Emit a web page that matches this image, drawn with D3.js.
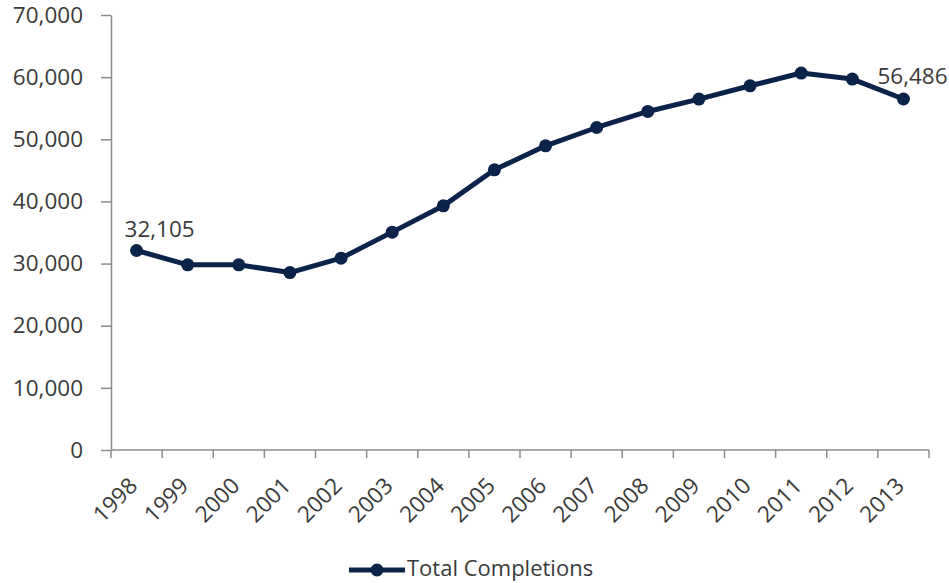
<!DOCTYPE html>
<html>
<head>
<meta charset="utf-8">
<script src="https://cdn.jsdelivr.net/npm/d3@7"></script>
<style>
  html, body { margin: 0; padding: 0; background: #fff; }
  svg { display: block; }
  text { font-family: "Open Sans", "DejaVu Sans", sans-serif; fill: #3a3a3a; }
</style>
</head>
<body>
<svg id="chart" width="949" height="583"></svg>
<script>
const years = ["1998","1999","2000","2001","2002","2003","2004","2005","2006","2007","2008","2009","2010","2011","2012","2013"];
const completions = [32105, 29800, 29800, 28550, 30870, 35060, 39290, 45090, 48950, 51900, 54480, 56470, 58610, 60660, 59690, 56486];
const yTicks = [0, 10000, 20000, 30000, 40000, 50000, 60000, 70000];
const seriesName = "Total Completions";
const labeledYears = ["1998", "2013"];

(function () {
const svg = d3.select("#chart");
const plotLeft = 111, plotRight = 929, plotTop = 15, plotBottom = 450;
const navy = "#0b2249";
const axisColor = "#8c8c8c";
const textColor = "#3a3a3a";
const fs = "22.5px";
const fmt = d3.format(",");

const x = d3.scaleBand().domain(years).range([plotLeft, plotRight]).padding(0);
const y = d3.scaleLinear().domain([0, 70000]).range([plotBottom, plotTop]);

// Y axis
const yAxis = svg.append("g").attr("transform", `translate(${plotLeft},0)`)
  .call(d3.axisLeft(y).tickValues(yTicks).tickFormat(fmt).tickSizeInner(10).tickSizeOuter(0).tickPadding(18));
yAxis.select(".domain").attr("stroke", axisColor).attr("stroke-width", 1.5);
yAxis.selectAll(".tick line").attr("stroke", axisColor).attr("stroke-width", 1.5);
yAxis.selectAll(".tick text").style("font-size", fs).attr("fill", textColor)
  .style("font-family", "'Open Sans', sans-serif");

// X axis line and boundary ticks
const xg = svg.append("g");
xg.append("line").attr("x1", plotLeft).attr("x2", plotRight).attr("y1", y(0)).attr("y2", y(0))
  .attr("stroke", axisColor).attr("stroke-width", 1.5);
const bounds = years.map(d => x(d)).concat([x.range()[1]]);
xg.selectAll("line.tk").data(bounds).enter().append("line").attr("class", "tk")
  .attr("x1", d => d).attr("x2", d => d).attr("y1", y(0)).attr("y2", y(0) + 8)
  .attr("stroke", axisColor).attr("stroke-width", 1.5);
xg.selectAll("text.xl").data(years).enter().append("text").attr("class", "xl")
  .attr("transform", d => `translate(${x(d) + x.bandwidth() / 2 - 2},${y(0) + 33}) rotate(-45)`)
  .attr("text-anchor", "end")
  .attr("dominant-baseline", "middle")
  .style("font-size", fs)
  .text(d => d);

// Line
const line = d3.line().x((d, i) => x(years[i]) + x.bandwidth() / 2).y(d => y(d));
svg.append("path").datum(completions).attr("d", line)
  .attr("fill", "none").attr("stroke", navy).attr("stroke-width", 5).attr("stroke-linejoin", "round");
svg.selectAll("circle.pt").data(completions).enter().append("circle").attr("class", "pt")
  .attr("cx", (d, i) => x(years[i]) + x.bandwidth() / 2).attr("cy", d => y(d)).attr("r", 6.5)
  .attr("fill", navy);

// Data labels
labeledYears.forEach((yr, k) => {
  const i = years.indexOf(yr);
  const cx = x(yr) + x.bandwidth() / 2;
  const cy = y(completions[i]);
  svg.append("text")
    .attr("x", k === 0 ? cx - 12 : cx - 26)
    .attr("y", k === 0 ? cy - 13.5 : cy - 15)
    .attr("text-anchor", "start")
    .style("font-size", fs)
    .text(fmt(completions[i]));
});

// Legend
const lg = svg.append("g");
lg.append("line").attr("x1", 349).attr("x2", 405).attr("y1", 570).attr("y2", 570)
  .attr("stroke", navy).attr("stroke-width", 5);
lg.append("circle").attr("cx", 377).attr("cy", 570).attr("r", 6.5).attr("fill", navy);
lg.append("text").attr("x", 407).attr("y", 576).style("font-size", "22px").text(seriesName);
})();
</script>
</body>
</html>
